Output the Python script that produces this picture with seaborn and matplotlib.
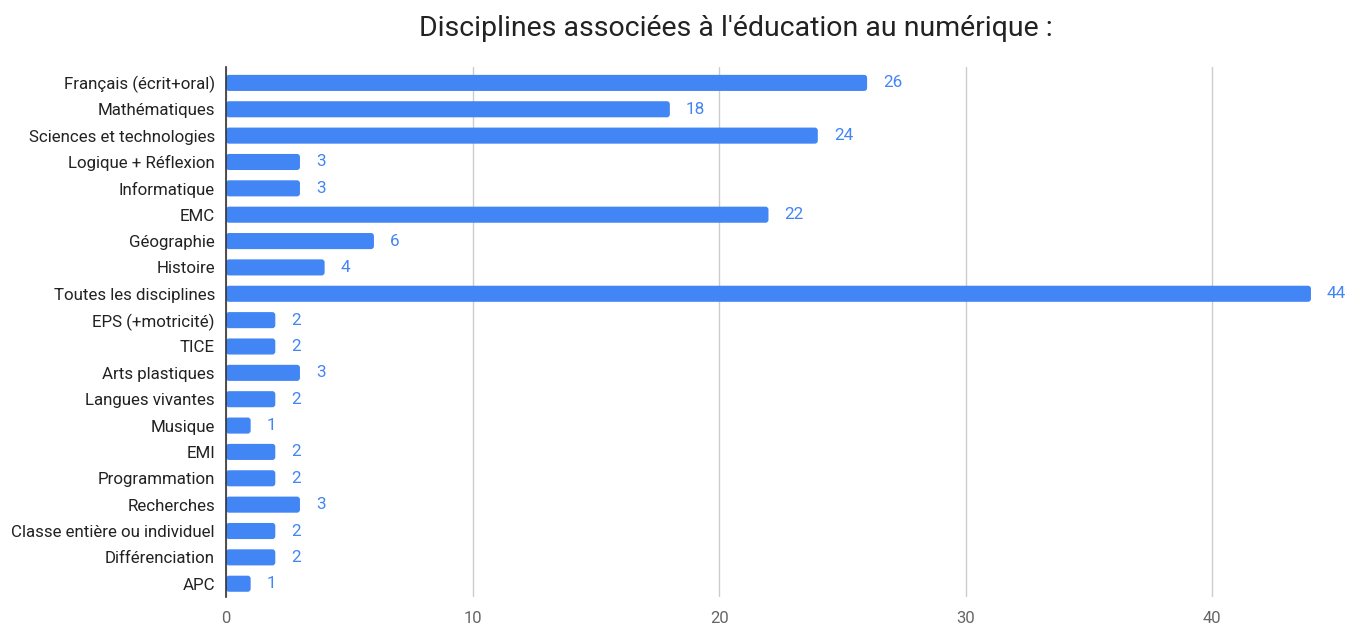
import pandas as pd
import seaborn as sns
import matplotlib.pyplot as plt
from matplotlib.patches import FancyBboxPatch

# Données du graphique
disciplines = ["Français (écrit+oral)", "Mathématiques", "Sciences et technologies",
               "Logique + Réflexion", "Informatique", "EMC", "Géographie", "Histoire",
               "Toutes les disciplines", "EPS (+motricité)", "TICE", "Arts plastiques",
               "Langues vivantes", "Musique", "EMI", "Programmation", "Recherches",
               "Classe entière ou individuel", "Différenciation", "APC"]
nombres = [26, 18, 24, 3, 3, 22, 6, 4, 44, 2, 2, 3, 2, 1, 2, 2, 3, 2, 2, 1]
graduations = [0, 10, 20, 30, 40]

df = pd.DataFrame({'Discipline': disciplines, 'Nombre': nombres})

sns.set_style("white")
plt.rcParams['font.family'] = ['Roboto', 'DejaVu Sans']

fig = plt.figure(figsize=(13.5, 6.27), dpi=100)
ax = fig.add_axes([0.1674, 0.048, 0.8046, 0.845])

sns.barplot(x='Nombre', y='Discipline', data=df, color='#4285F4', width=0.61,
            saturation=1, ax=ax, zorder=3)

# Coins arrondis des barres
for p in list(ax.patches):
    x0, y0 = p.get_x(), p.get_y()
    w, h = p.get_width(), p.get_height()
    arrondi = FancyBboxPatch((x0, y0), w, h, boxstyle="round,pad=0,rounding_size=0.12",
                             mutation_aspect=0.95, facecolor='#4285F4',
                             edgecolor='none', zorder=3)
    p.remove()
    ax.add_patch(arrondi)

# Étiquettes de valeurs
for i, v in enumerate(nombres):
    ax.text(v + 0.65, i, str(v), color='#4285F4', fontsize=12.3, va='center', ha='left')

ax.set_xlim(0, 44.05)
ax.set_ylim(19.5, -0.6)
ax.set_xticks(graduations)
ax.tick_params(axis='x', colors='#666666', labelsize=12, length=0, pad=10)
ax.tick_params(axis='y', labelcolor='#222222', labelsize=12.2, length=0, pad=8)
ax.xaxis.grid(True, color='#cccccc', linewidth=1, zorder=0)
ax.set_xlabel('')
ax.set_ylabel('')
for s in ['top', 'right', 'bottom']:
    ax.spines[s].set_visible(False)
ax.spines['left'].set_color('#333333')
ax.spines['left'].set_linewidth(1.2)
ax.spines['left'].set_zorder(4)

fig.suptitle("Disciplines associées à l'éducation au numérique :", fontsize=20.5,
             color='#222222', x=0.545, y=0.955, va='center')

plt.savefig('out.png', dpi=100)
